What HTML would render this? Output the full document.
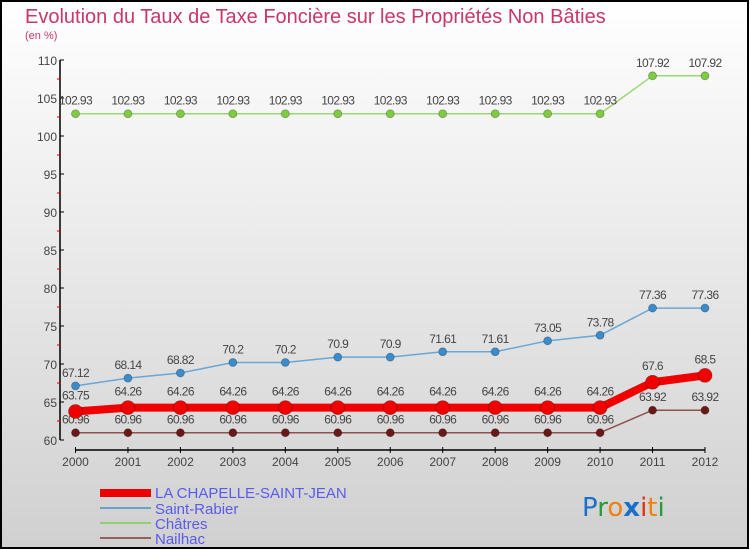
<!DOCTYPE html>
<html><head><meta charset="utf-8"><style>
body{margin:0}
svg{display:block;font-family:"Liberation Sans",sans-serif}
</style></head><body>
<svg width="750" height="550" viewBox="0 0 750 550">
<defs><linearGradient id="bg" x1="0" y1="0" x2="0" y2="1"><stop offset="0" stop-color="#ffffff"/><stop offset="1" stop-color="#d0d0d0"/></linearGradient></defs>
<rect x="1" y="1" width="747" height="547" fill="url(#bg)" stroke="#000" stroke-width="2"/>
<text x="25" y="23" font-size="20" fill="#c8366a">Evolution du Taux de Taxe Foncière sur les Propriétés Non Bâties</text>
<text x="25" y="39" font-size="11" fill="#c8366a">(en %)</text>
<g id="axes"></g>
<g id="series"></g>
<g>
<rect x="100" y="489" width="51" height="8" fill="#e00"/>
<text x="155" y="498" font-size="15" fill="#5a5aee">LA CHAPELLE-SAINT-JEAN</text>
<rect x="100" y="507" width="51" height="2" fill="#6aa0cc"/>
<text x="155" y="514" font-size="15" fill="#5a5aee">Saint-Rabier</text>
<rect x="100" y="522" width="51" height="2" fill="#90d070"/>
<text x="155" y="529" font-size="15" fill="#5a5aee">Châtres</text>
<rect x="100" y="537" width="51" height="2" fill="#956060"/>
<text x="155" y="544" font-size="15" fill="#5a5aee">Nailhac</text>
</g>
<g font-size="26" font-family="DejaVu Sans, sans-serif">
<text x="582" y="516"><tspan fill="#1a70c8">P</tspan><tspan fill="#2a9a3a">r</tspan><tspan fill="#f08010">o</tspan><tspan fill="#1a70c8" font-weight="bold">x</tspan><tspan fill="#e03010">i</tspan><tspan fill="#f08010">t</tspan><tspan fill="#2a9a3a">i</tspan></text>
</g>
</svg>
<script>
const years=["2000","2001","2002","2003","2004","2005","2006","2007","2008","2009","2010","2011","2012"];
const laChapelle=[63.75,64.26,64.26,64.26,64.26,64.26,64.26,64.26,64.26,64.26,64.26,67.6,68.5];
const saintRabier=[67.12,68.14,68.82,70.2,70.2,70.9,70.9,71.61,71.61,73.05,73.78,77.36,77.36];
const chatres=[102.93,102.93,102.93,102.93,102.93,102.93,102.93,102.93,102.93,102.93,102.93,107.92,107.92];
const nailhac=[60.96,60.96,60.96,60.96,60.96,60.96,60.96,60.96,60.96,60.96,60.96,63.92,63.92];
const yTicks=[60,65,70,75,80,85,90,95,100,105,110];
const NS="http://www.w3.org/2000/svg";
function xs(i){return 75.5+i*(705-75.5)/(years.length-1);}
function ys(v){return 440-(v-60)*(380/50);}
function mk(t,a,p){const e=document.createElementNS(NS,t);for(const k in a)e.setAttribute(k,a[k]);(p).appendChild(e);return e;}
const ax=document.getElementById('axes');
mk('line',{x1:60,y1:ys(110),x2:60,y2:ys(60),stroke:'#000','stroke-width':1.5},ax);
yTicks.forEach(v=>{
 mk('line',{x1:60,y1:ys(v),x2:64,y2:ys(v),stroke:'#000'},ax);
 const t=mk('text',{x:57,y:ys(v)+5,'font-size':12,'text-anchor':'end',fill:'#444'},ax);t.textContent=v;
 
 
 if(v<110)mk('line',{x1:57,y1:ys(v+2.5),x2:61,y2:ys(v+2.5),stroke:'#d00'},ax);
});
mk('line',{x1:xs(0),y1:450,x2:xs(years.length-1),y2:450,stroke:'#000','stroke-width':1.5},ax);
years.forEach((y,i)=>{
 mk('line',{x1:xs(i),y1:447,x2:xs(i),y2:453,stroke:'#000'},ax);
 const t=mk('text',{x:xs(i),y:466,'font-size':12,'text-anchor':'middle',fill:'#444'},ax);t.textContent=y;
 
 
});
const sg=document.getElementById('series');
function draw(name,data,color,lineColor,w,r){
 const g=mk('g',{},sg);
 
 
 mk('polyline',{points:data.map((v,i)=>xs(i)+','+ys(v)).join(' '),fill:'none',stroke:lineColor,'stroke-width':w,'stroke-linejoin':'round'},g);
 data.forEach((v,i)=>{
  const c=mk('circle',{cx:xs(i),cy:ys(v),r:r,fill:color,stroke:'rgba(0,0,0,0.3)','stroke-width':0.8},g);
  
  
  const t=mk('text',{x:xs(i),y:ys(v)-r-5,'font-size':12,'text-anchor':'middle',fill:'#444','letter-spacing':'-0.6'},g);
  t.textContent=String(v);
  
  
 });
}
draw('series-chatres',chatres,'#7fcc40','#9ad870',1.5,4);
draw('series-saint-rabier',saintRabier,'#3a8ccc','#6aa6d6',1.5,4);
draw('series-nailhac',nailhac,'#6a1818','#905050',1.5,4);
draw('series-la-chapelle',laChapelle,'#f00000','#f00000',8,7);
</script>
</body></html>
